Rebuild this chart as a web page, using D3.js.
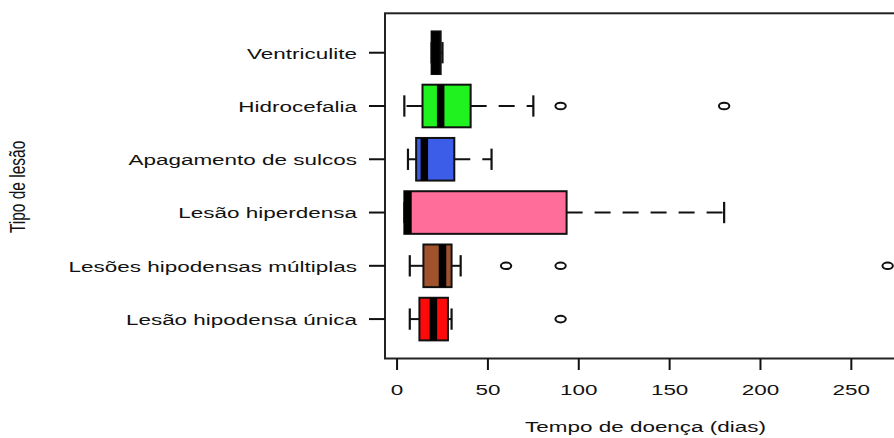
<!DOCTYPE html>
<html>
<head>
<meta charset="utf-8">
<script src="https://cdn.jsdelivr.net/npm/d3@7"></script>
<style>
  html, body { margin: 0; padding: 0; background: #fff; }
  svg { display: block; }
  text { font-family: "Liberation Sans", Arial, Helvetica, sans-serif; fill: #121212; }
</style>
</head>
<body>
<svg id="chart" width="894" height="438"></svg>
<script>
// Lesion types, bottom to top
const categories = [
  "Lesão hipodensa única",
  "Lesões hipodensas múltiplas",
  "Lesão hiperdensa",
  "Apagamento de sulcos",
  "Hidrocefalia",
  "Ventriculite"
];
// Five-number summaries (days)
const whiskerLow  = [7, 7, 4, 6, 4, 19];
const quart1      = [12.3, 14.5, 4, 10.5, 14, 19];
const medians     = [20, 25, 6, 15, 24, 21];
const quart3      = [28, 30, 93.3, 31.5, 40.5, 24];
const whiskerHigh = [30, 35, 180, 52, 75, 25];
const outliers    = [[90], [60, 90, 270], [], [], [90, 180], []];
const fills       = ["#ff0a0a", "#a0522d", "#ff6e9b", "#3b5de8", "#1ff21f", "#000000"];
const xTicks      = [0, 50, 100, 150, 200, 250];

const xTitle = "Tempo de doença (dias)";
const yTitle = "Tipo de lesão";

const svg = d3.select("#chart");
const STRETCH = 1.45; // horizontal glyph stretch of the labels

// Data range padded by 4% on each side
const allVals = whiskerLow.concat(whiskerHigh, outliers.flat());
const lo = d3.min(allVals), hi = d3.max(allVals);
const pad = (hi - lo) * 0.04;

const plot = { left: 385, right: 907, top: 13.3, bottom: 358.5 };

const x = d3.scaleLinear().domain([lo - pad, hi + pad]).range([plot.left, plot.right]);
const n = categories.length;
const yPad = n * 0.04;
const y = d3.scaleLinear().domain([0.5 - yPad, n + 0.5 + yPad]).range([plot.bottom, plot.top]);
const boxHalf = (y(0) - y(1)) * 0.4;
const capHalf = boxHalf * 0.5;

const rows = categories.map((c, i) => ({
  name: c, pos: i + 1,
  min: whiskerLow[i], q1: quart1[i], med: medians[i], q3: quart3[i], max: whiskerHigh[i],
  out: outliers[i], fill: fills[i]
}));

const g = svg.append("g");

// Whiskers (dashed) and caps
const rowG = g.selectAll("g.row").data(rows).join("g").attr("class", "row");
rowG.append("line")
  .attr("x1", d => x(d.q3)).attr("x2", d => x(d.max))
  .attr("y1", d => y(d.pos)).attr("y2", d => y(d.pos))
  .attr("stroke", "#111").attr("stroke-width", 2).attr("stroke-dasharray", "16,12");
rowG.append("line")
  .attr("x1", d => x(d.q1)).attr("x2", d => x(d.min))
  .attr("y1", d => y(d.pos)).attr("y2", d => y(d.pos))
  .attr("stroke", "#111").attr("stroke-width", 2).attr("stroke-dasharray", "16,12");
rowG.selectAll("line.cap").data(d => [d.min, d.max].map(v => ({ v, pos: d.pos })))
  .join("line").attr("class", "cap")
  .attr("x1", d => x(d.v)).attr("x2", d => x(d.v))
  .attr("y1", d => y(d.pos) - capHalf).attr("y2", d => y(d.pos) + capHalf)
  .attr("stroke", "#111").attr("stroke-width", 2.2);

// Boxes
rowG.append("rect")
  .attr("x", d => x(d.q1)).attr("width", d => x(d.q3) - x(d.q1))
  .attr("y", d => y(d.pos) - boxHalf).attr("height", boxHalf * 2)
  .attr("fill", d => d.fill).attr("stroke", "#111").attr("stroke-width", 2);

// Medians
rowG.append("line")
  .attr("x1", d => x(d.med)).attr("x2", d => x(d.med))
  .attr("y1", d => y(d.pos) - boxHalf).attr("y2", d => y(d.pos) + boxHalf)
  .attr("stroke", "#000").attr("stroke-width", 7.5);

// Outliers
rowG.selectAll("ellipse").data(d => d.out.map(v => ({ v, pos: d.pos })))
  .join("ellipse")
  .attr("cx", d => x(d.v)).attr("cy", d => y(d.pos))
  .attr("rx", 5.2).attr("ry", 3.3)
  .attr("fill", "none").attr("stroke", "#111").attr("stroke-width", 2);

// Frame
g.append("rect")
  .attr("x", plot.left).attr("y", plot.top)
  .attr("width", plot.right - plot.left).attr("height", plot.bottom - plot.top)
  .attr("fill", "none").attr("stroke", "#222").attr("stroke-width", 2);

// X axis ticks and labels
const xAx = g.append("g");
xAx.selectAll("line").data(xTicks).join("line")
  .attr("x1", d => x(d)).attr("x2", d => x(d))
  .attr("y1", plot.bottom).attr("y2", plot.bottom + 11.5)
  .attr("stroke", "#111").attr("stroke-width", 2);
xAx.selectAll("text").data(xTicks).join("text")
  .attr("transform", d => `translate(${x(d)},395) scale(${STRETCH},1)`)
  .attr("text-anchor", "middle").attr("font-size", 15.5)
  .text(d => d3.format("d")(d));

// Y axis ticks and labels
const yAx = g.append("g");
yAx.selectAll("line").data(rows).join("line")
  .attr("x1", plot.left - 16).attr("x2", plot.left)
  .attr("y1", d => y(d.pos)).attr("y2", d => y(d.pos))
  .attr("stroke", "#111").attr("stroke-width", 2);
yAx.selectAll("text").data(rows).join("text")
  .attr("transform", d => `translate(357,${y(d.pos) + 5.8}) scale(${STRETCH},1)`)
  .attr("text-anchor", "end").attr("font-size", 15.5)
  .text(d => d.name);

// Axis titles
svg.append("text")
  .attr("transform", `translate(${(plot.left + plot.right) / 2 - 0.5},432) scale(${STRETCH},1)`)
  .attr("text-anchor", "middle").attr("font-size", 15.5)
  .text(xTitle);
svg.append("text")
  .attr("transform", `translate(25,${(plot.top + plot.bottom) / 2 + 1}) rotate(-90) scale(1,${STRETCH})`)
  .attr("text-anchor", "middle").attr("font-size", 15.5)
  .text(yTitle);
</script>
</body>
</html>
